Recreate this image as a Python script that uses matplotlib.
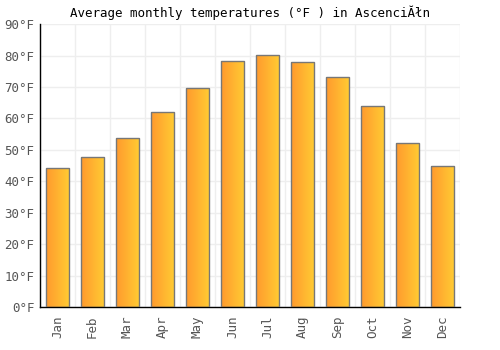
import matplotlib
matplotlib.use("Agg")
import matplotlib.pyplot as plt
import numpy as np
from matplotlib.colors import LinearSegmentedColormap

months = ["Jan", "Feb", "Mar", "Apr", "May", "Jun", "Jul", "Aug", "Sep", "Oct", "Nov", "Dec"]
temps_f = [44.1, 47.6, 53.7, 61.9, 69.8, 78.3, 80.1, 77.9, 73.2, 64.1, 52.1, 44.8]
yticks = [0, 10, 20, 30, 40, 50, 60, 70, 80, 90]
title = "Average monthly temperatures (°F ) in AscenciĂłn"

plt.rcParams['font.family'] = ['DejaVu Sans Mono', 'DejaVu Sans']

fig = plt.figure(figsize=(5, 3.5), dpi=100)
ax = fig.add_axes([0.08, 0.123, 0.84, 0.808])

x = np.arange(len(months))
bw = 0.66
bars = ax.bar(x, temps_f, width=bw, facecolor='none', edgecolor='#777777', linewidth=1.0, zorder=3)

cmap = LinearSegmentedColormap.from_list("g", ["#ff9a2e", "#ffcc33"])
grad = np.linspace(0, 1, 64).reshape(1, -1)
for b in bars:
    x0, y0 = b.get_x(), b.get_y()
    w, h = b.get_width(), b.get_height()
    im = ax.imshow(grad, cmap=cmap, extent=[x0, x0 + w, y0, y0 + h], aspect='auto', zorder=2)
    im.set_clip_path(b)

ax.set_xlim(-0.5, len(months) - 0.5)
ax.set_ylim(0, 90)
ax.set_yticks(yticks)
ax.set_yticklabels([f"{v}°F" for v in yticks])
ax.set_xticks(x)
ax.set_xticklabels(months, rotation=90)
ax.set_xticks(np.arange(-0.5, len(months), 1), minor=True)
ax.grid(True, axis='y', color='#eeeeee', linewidth=1, zorder=0)
ax.grid(True, axis='x', which='minor', color='#eeeeee', linewidth=1, zorder=0)
ax.tick_params(axis='both', which='both', length=0, labelsize=9, colors='#555555', pad=4)
ax.tick_params(axis='x', pad=6)
for s in ['top', 'right']:
    ax.spines[s].set_visible(False)
for s in ['left', 'bottom']:
    ax.spines[s].set_color('#000000')
    ax.spines[s].set_linewidth(1)
ax.set_axisbelow(True)
ax.set_title(title, fontsize=9, color='#000000', pad=5)

fig.savefig("out.png", dpi=100)
